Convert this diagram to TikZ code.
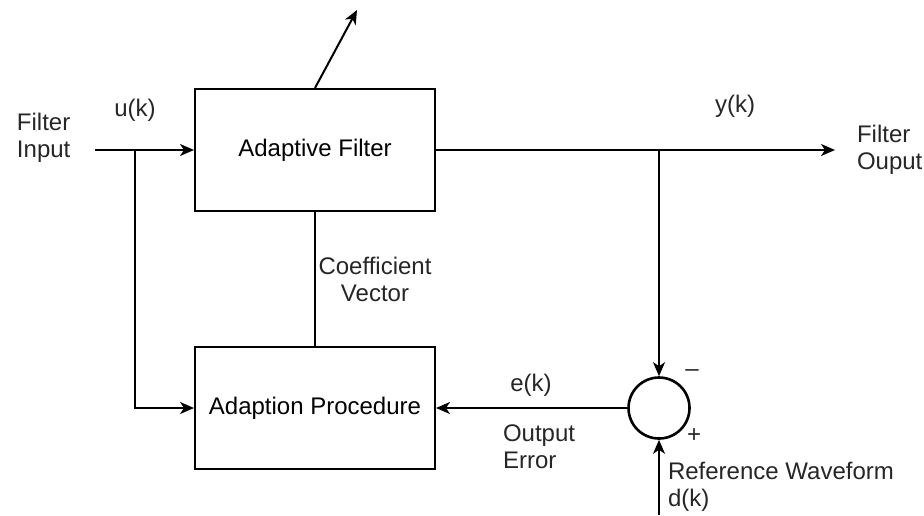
\documentclass[tikz,border=0pt]{standalone}
\usepackage{fontspec}
\setmainfont{Liberation Sans}
\usetikzlibrary{arrows.meta}
\begin{document}
\begin{tikzpicture}[x=0.5pt, y=-0.5pt, line width=1pt, font=\fontsize{12}{13.5}\selectfont,
    block/.style={draw, rectangle, minimum width=120pt, minimum height=61pt, inner sep=0pt},
    sum/.style={draw, circle, minimum size=30.5pt, inner sep=0pt, line width=1.3pt},
    lbl/.style={inner sep=0pt, text=black!85},
    arr/.style={-{Stealth[length=7pt,width=6pt,inset=2pt]}}]
       \useasboundingbox (0,0) rectangle (924,515);
       \node[block] (af) at (315,150) {Adaptive Filter};
       \node[block] (ap) at (315,408) {Adaption Procedure};
       \node[sum] (sum) at (659,408) {};

       \coordinate (in) at (95,150);
       \coordinate (ubr) at (135,150);
       \coordinate (ybr) at (659,150);
       \coordinate (out) at (835,150);
       \coordinate (dk) at (659,515);
       \coordinate (tip) at (357,10);

       \node[lbl, align=left, anchor=west] (fin) at (16,138) {Filter\\Input};
       \node[lbl] (uk) at (135,110) {u(k)};
       \node[lbl] (yk) at (735,106) {y(k)};
       \node[lbl, align=left, anchor=west] (fout) at (856,150) {Filter\\Ouput};
       \node[lbl, align=center] (cv) at (375,279) {Coefficient\\Vector};
       \node[lbl] (ek) at (531,385) {e(k)};
       \node[lbl, align=left, anchor=west] (oe) at (502,447) {Output\\Error};
       \node[lbl] (minus) at (692,373) {–};
       \node[lbl] (plus) at (694,436) {+};
       \node[lbl, align=left, anchor=west] (ref) at (667,487) {Reference Waveform\\d(k)};

       \draw[arr] (in) -- (af.west);
       \draw[arr] (ubr) |- (ap.west);
       \draw[arr] (af.east) -- (out);
       \draw[arr] (ybr) -- (sum.north);
       \draw (af.south) -- (ap.north);
       \draw[arr] (sum.west) -- (ap.east);
       \draw[arr] (dk) -- (sum.south);
       \draw[arr] (af.north) -- (tip);
     \end{tikzpicture}
\end{document}
